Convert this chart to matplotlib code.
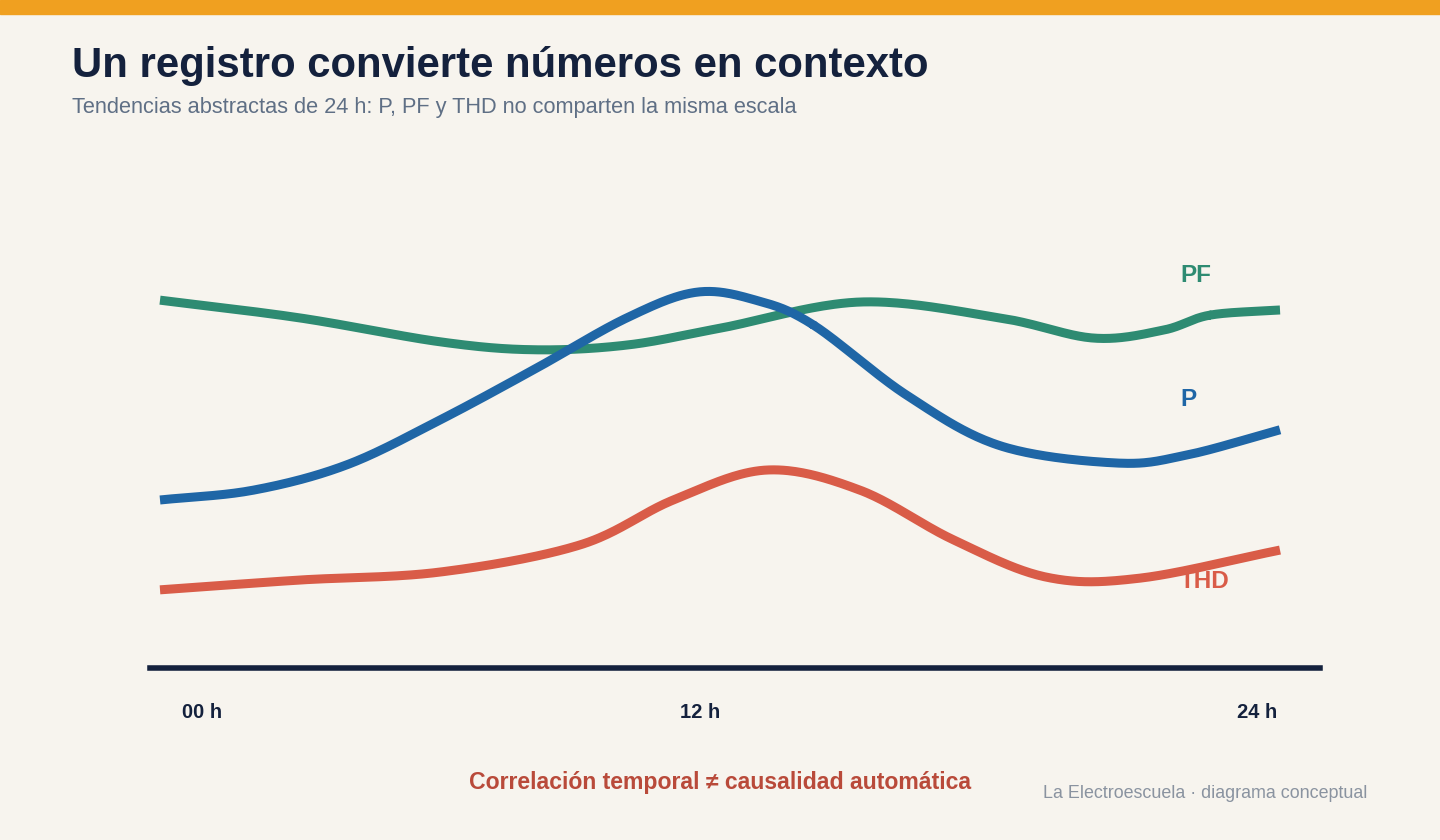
import numpy as np
import matplotlib.pyplot as plt

# -- Data (hours, abstract level 0-100) -- #
P_HOURS = [0, 2, 4, 6, 8, 10, 11.5, 12.8, 14, 16, 18, 20.5, 22, 24]
P_VALUES = [35.9, 38, 43.4, 53, 63.7, 74.8, 80.3, 78.5, 73.3, 58.3, 47.5, 43.8, 45.5, 50.9]
PF_HOURS = [0, 3, 6, 8, 10, 12, 15, 18, 20, 21.5, 22.5, 24]
PF_VALUES = [78.6, 74.8, 69.7, 68, 69, 72.6, 78.2, 74.8, 70.5, 72.2, 75.4, 76.5]
THD_HOURS = [0, 3, 6, 9, 11, 13, 15, 17, 19, 21, 24]
THD_VALUES = [16.7, 18.8, 20.5, 26.3, 35.9, 42.3, 38, 27.4, 19.4, 19.2, 25.2]
TICK_HOURS = [0, 12, 24]
TICK_LABELS = ['00 h', '12 h', '24 h']

BG = '#f7f4ee'
NAVY = '#14213d'


def catmull_rom(x, y, n=40):
    x = np.asarray(x, float)
    y = np.asarray(y, float)
    px = np.concatenate([[2 * x[0] - x[1]], x, [2 * x[-1] - x[-2]]])
    py = np.concatenate([[2 * y[0] - y[1]], y, [2 * y[-1] - y[-2]]])
    xs, ys = [], []
    t = np.linspace(0, 1, n)
    for i in range(1, len(px) - 2):
        for arr, out in ((px, xs), (py, ys)):
            p0, p1, p2, p3 = arr[i - 1:i + 3]
            out.append(0.5 * (2 * p1 + (-p0 + p2) * t + (2 * p0 - 5 * p1 + 4 * p2 - p3) * t ** 2
                              + (-p0 + 3 * p1 - 3 * p2 + p3) * t ** 3))
    return np.concatenate(xs), np.concatenate(ys)


fig = plt.figure(figsize=(14.4, 8.4), dpi=100, facecolor=BG)
plt.rcParams['font.family'] = ['Liberation Sans', 'DejaVu Sans']

# axes: x 150..1320 px, y 200..668 px
ax = fig.add_axes([150 / 1440, (840 - 668) / 840, 1170 / 1440, 468 / 840])
ax.set_facecolor(BG)
ax.set_xlim(-10 / 46.667, 1170 / 46.667 - 10 / 46.667)
ax.set_ylim(0, 100)
for s in ax.spines.values():
    s.set_visible(False)
ax.set_xticks([])
ax.set_yticks([])
ax.axhline(0, color=NAVY, lw=4, clip_on=False)

series = [(PF_HOURS, PF_VALUES, '#2e8b72', 'PF', 276),
          (P_HOURS, P_VALUES, '#1f66a6', 'P', 400),
          (THD_HOURS, THD_VALUES, '#d95c48', 'THD', 582)]
for hx, hy, col, name, ly in series:
    sx, sy = catmull_rom(hx, hy)
    ax.plot(sx, sy, color=col, lw=6.5, solid_capstyle='butt')
    fig.text(1180 / 1440, 1 - ly / 840, name, color=col, fontsize=17.5, fontweight='bold',
             ha='left', va='center')

offsets = {0: 0.9, 12: -0.43, 24: -0.5}
for h, lab in zip(TICK_HOURS, TICK_LABELS):
    ax.text(h + offsets[h], -9.5, lab, color=NAVY,
            fontsize=14.5, fontweight='bold', ha='center', va='center', clip_on=False)

fig.patches.append(plt.Rectangle((0, 1 - 14 / 840), 1, 14 / 840, transform=fig.transFigure,
                                 color='#f0a020', zorder=5))
fig.text(72 / 1440, 1 - 66 / 840, 'Un registro convierte números en contexto', color=NAVY,
         fontsize=30.2, fontweight='bold', va='center')
fig.text(72 / 1440, 1 - 108 / 840, 'Tendencias abstractas de 24 h: P, PF y THD no comparten la misma escala',
         color='#5f6f85', fontsize=15.7, va='center')
fig.text(720 / 1440, 1 - 782 / 840, 'Correlación temporal ≠ causalidad automática', color='#b94a3a',
         fontsize=16.6, fontweight='bold', ha='center', va='center')
fig.text(1367 / 1440, 1 - 794 / 840, 'La Electroescuela · diagrama conceptual', color='#8a93a0',
         fontsize=12.9, ha='right', va='center')

fig.savefig('out.png', dpi=100, facecolor=BG)
